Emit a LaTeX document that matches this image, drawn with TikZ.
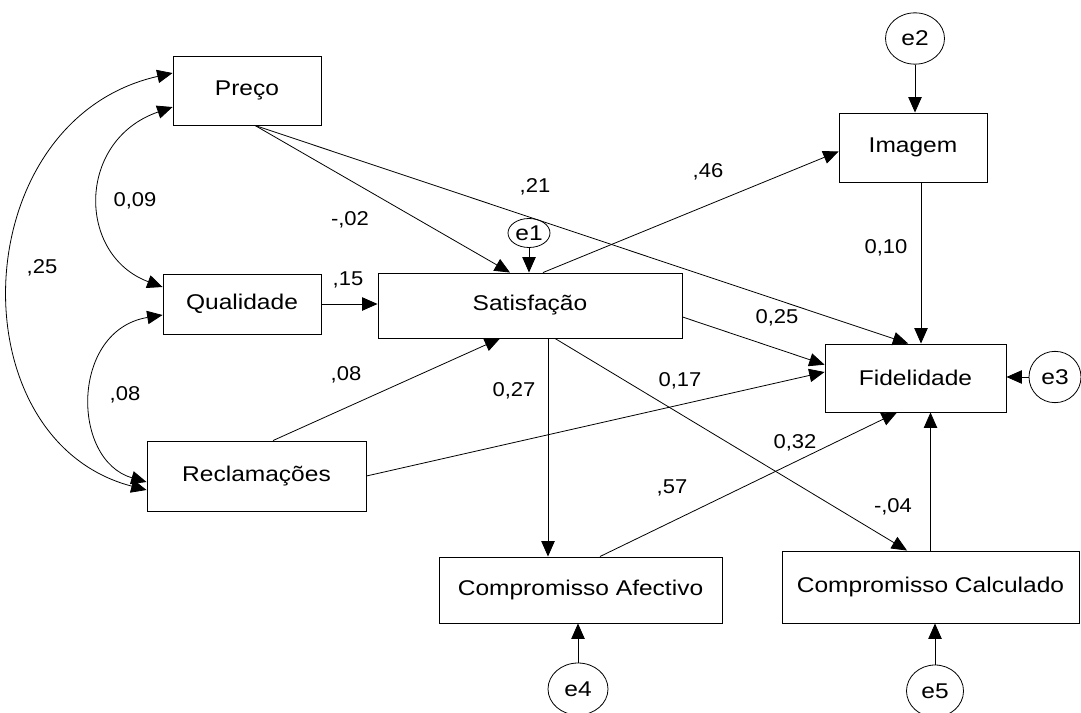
\documentclass[tikz,border=0pt]{standalone}
\usepackage{fontspec}
\setmainfont{Liberation Sans}
\newfontfamily\boxfont{Liberation Sans}[FakeStretch=1.15]
\newfontfamily\labfont{Liberation Sans}[FakeStretch=1.1]
\usetikzlibrary{arrows.meta,calc,shapes.geometric}
\begin{document}
\begin{tikzpicture}[x=0.75pt,y=-0.75pt,
  box/.style={draw, line width=0.7pt, rectangle, inner sep=0pt, font=\boxfont\fontsize{16}{19}\selectfont},
  err/.style={draw, line width=0.6pt, ellipse, inner sep=0pt, font=\boxfont\fontsize{16}{19}\selectfont},
  lab/.style={anchor=base, inner sep=0pt, font=\labfont\fontsize{15}{18}\selectfont},
  arr/.style={line width=0.6pt, -{Triangle[length=11.5pt,width=10pt]}},
  cov/.style={line width=0.6pt, {Triangle[length=11.5pt,width=10pt]}-{Triangle[length=11.5pt,width=10pt]}},
]
\useasboundingbox[fill=white] (0,0) rectangle (1081,713);

% boxes
\node[box, minimum width=111pt, minimum height=51.75pt] (preco) at (247,90.5) {Preço};
\node[box, minimum width=118.5pt, minimum height=45pt] (qual) at (242,304) {Qualidade};
\node[box, minimum width=164.25pt, minimum height=52.5pt] (recl) at (256.5,476) {Reclamações};
\node[box, minimum width=228pt, minimum height=48.75pt] (sat) at (530,305.5) {Satisfação};
\node[box, minimum width=111pt, minimum height=51.75pt] (img) at (913,147.5) {Imagem};
\node[box, minimum width=135.75pt, minimum height=51pt] (fid) at (915.5,378) {Fidelidade};
\node[box, minimum width=212.25pt, minimum height=49.5pt] (ca) at (580.5,590) {Compromisso Afectivo};
\node[box, minimum width=222.75pt, minimum height=54pt] (cc) at (930.5,587) {Compromisso Calculado};

% error terms
\node[err, minimum width=31.5pt, minimum height=21.75pt] (e1) at (529,233) {e1};
\node[err, minimum width=44.25pt, minimum height=38.5pt] (e2) at (915,38.5) {e2};
\node[err, minimum width=39pt, minimum height=38.5pt] (e3) at (1055,377) {e3};
\node[err, minimum width=45pt, minimum height=39pt] (e4) at (578,689) {e4};
\node[err, minimum width=42.75pt, minimum height=39pt] (e5) at (935,691) {e5};

% paths
\draw[arr] (e1.south) -- (e1.south |- sat.north);
\draw[arr] ([xshift=6pt]preco.south) -- ([xshift=-15pt]sat.north);
\draw[arr] ([xshift=6pt]preco.south) -- ([xshift=-5.5pt]fid.north);
\draw[arr] ([xshift=9.75pt]sat.north) -- ([yshift=-3pt]img.west);
\draw[arr] ([yshift=-8.6pt]sat.east) -- ([yshift=10pt]fid.west);
\draw[arr] (recl.east) -- ([yshift=4.5pt]fid.west);
\draw[arr] ([xshift=12.4pt]recl.north) -- ([xshift=-22.5pt]sat.south);
\draw[arr] (qual.east) -- (qual.east -| sat.west);
\draw[arr] ([xshift=13.5pt]sat.south) -- ([xshift=13.5pt]sat.south |- ca.north);
\draw[arr] ([xshift=18.75pt]sat.south) -- ([xshift=-17.6pt]cc.north);
\draw[arr] ([xshift=14.6pt]ca.north) -- ([xshift=-13.9pt]fid.south);
\draw[arr] (cc.north) -- (cc.north |- fid.south);
\draw[arr] ([xshift=6pt]img.south) -- ([xshift=6pt]img.south |- fid.north);
\draw[arr] (e2.south) -- (e2.south |- img.north);
\draw[arr] (e3.west) -- (e3.west -| fid.east);
\draw[arr] (e4.north) -- (e4.north |- ca.south);
\draw[arr] (e5.north) -- (e5.north |- cc.south);

% covariances
\draw[cov] ([yshift=-12.4pt]preco.west) .. controls +(-96,33) and +(-86,-32) .. ([yshift=12.75pt]qual.west);
\draw[cov] ([yshift=-8.25pt]qual.west) .. controls +(-92,15) and +(-76,-22) .. ([yshift=-4.5pt]recl.west);
\draw[cov] ([yshift=13.1pt]preco.west) .. controls +(-208,47) and +(-192,-50) .. ([yshift=-10.5pt]recl.west);

% labels
\node[lab] (l1) at (135,206) {0,09};
\node[lab] (l2) at (42,273) {,25};
\node[lab] (l3) at (125,400) {,08};
\node[lab] (l4) at (350,225) {-,02};
\node[lab] (l5) at (348,285) {,15};
\node[lab] (l6) at (346,380) {,08};
\node[lab] (l7) at (535,193) {,21};
\node[lab] (l8) at (708,178) {,46};
\node[lab] (l9) at (886,253) {0,10};
\node[lab] (l10) at (777,323) {0,25};
\node[lab] (l11) at (680,386) {0,17};
\node[lab] (l12) at (514,396) {0,27};
\node[lab] (l13) at (795,448) {0,32};
\node[lab] (l14) at (672,493) {,57};
\node[lab] (l15) at (893,512) {-,04};
\end{tikzpicture}
\end{document}
